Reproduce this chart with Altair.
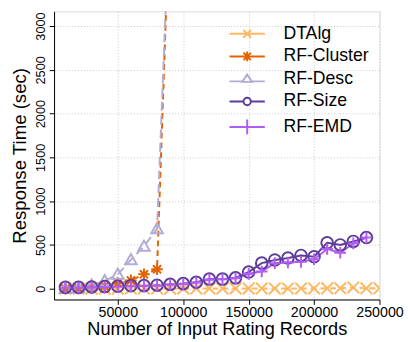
import altair as alt
import pandas as pd

series_names = ["DTAlg", "RF-Cluster", "RF-Desc", "RF-Size", "RF-EMD"]
colors = ["#fdb863", "#e66101", "#b2abd2", "#5e3c99", "#b15cf5"]

x_dtalg = [10000, 20000, 30000, 40000, 50000, 60000, 70000, 80000, 90000, 100000,
           110000, 120000, 130000, 140000, 150000, 160000, 170000, 180000, 190000,
           200000, 210000, 220000, 230000, 240000, 250000]
y_dtalg = [0, 0, 0, 0, 0, 2, 2, 2, 2, 3, 3, 3, 3, 3, 3, 3, 3, 3, 3, 3, 5, 5, 15, 5, 5]

x_cluster = [10000, 20000, 30000, 40000, 50000, 60000, 70000, 80000, 90000]
y_cluster = [0, 3, 10, 30, 65, 95, 165, 222, 4500]

x_desc = [10000, 20000, 30000, 40000, 50000, 60000, 70000, 80000, 90000]
y_desc = [0, 8, 40, 90, 164, 330, 483, 684, 4500]

x_size = [10000, 20000, 30000, 40000, 50000, 60000, 70000, 80000, 90000, 100000,
          110000, 120000, 130000, 140000, 150000, 160000, 170000, 180000, 190000,
          200000, 210000, 220000, 230000, 240000]
y_size = [15, 15, 20, 24, 28, 33, 35, 40, 50, 58, 73, 110, 110, 124, 190, 292,
          328, 350, 380, 365, 525, 500, 540, 584]
y_emd = [12, 12, 17, 20, 24, 28, 30, 35, 45, 55, 70, 105, 108, 120, 170, 197,
         292, 300, 307, 336, 453, 410, 518, 584]

x_ticks = [50000, 100000, 150000, 200000, 250000]
y_ticks = [0, 500, 1000, 1500, 2000, 2500, 3000]

rows = []
for name, xs, ys in [("DTAlg", x_dtalg, y_dtalg), ("RF-Cluster", x_cluster, y_cluster),
                     ("RF-Desc", x_desc, y_desc), ("RF-Size", x_size, y_size),
                     ("RF-EMD", x_size, y_emd)]:
    for xv, yv in zip(xs, ys):
        rows.append({"series": name, "records": xv, "time": yv})
df = pd.DataFrame(rows)

point_shapes = [
    "M-1,-1L1,1M-1,1L1,-1",
    "M-1,0L1,0M0,-1L0,1M-0.7,-0.7L0.7,0.7M-0.7,0.7L0.7,-0.7",
    "M0,-1L1,0.75L-1,0.75Z",
    "circle",
    "M-1,0L1,0M0,-1L0,1",
]
legend_shapes = [
    "M-3.6,0L3.6,0M-0.8,-0.8L0.8,0.8M-0.8,0.8L0.8,-0.8",
    "M-3.6,0L3.6,0M0,-1L0,1M-0.75,-0.75L0.75,0.75M-0.75,0.75L0.75,-0.75",
    "M-3.6,0.5L-1,0.5M1,0.5L3.6,0.5M0,-0.9L1,0.6L-1,0.6Z",
    "M-3.6,0L-0.75,0M0.75,0L3.6,0M-0.75,0A0.75,0.75 0 1,0 0.75,0A0.75,0.75 0 1,0 -0.75,0",
    "M-3.6,0L3.6,0M0,-1.5L0,1.5",
]
dashes = [[6, 4], [6, 4], [9, 5], [1, 0], [1, 0]]

font = "Liberation Sans"

x_enc = alt.X("records:Q", scale=alt.Scale(domain=[1300, 250000], nice=False, zero=False),
              axis=alt.Axis(values=x_ticks, title="Number of Input Rating Records",
                            format="d", labelFontSize=14.5, titleFontSize=18.5,
                            labelFont=font, titleFont=font, labelColor="black",
                            titleColor="black", titleFontWeight="normal",
                            labelPadding=1, titlePadding=1, tickSize=5,
                            labelFlush=False, labelOverlap=False,
                            domainColor="black", tickColor="black",
                            gridColor="#c8c8c8", gridDash=[1, 2]))
y_enc = alt.Y("time:Q", scale=alt.Scale(domain=[-123, 3168], nice=False, zero=False),
              axis=alt.Axis(values=y_ticks, title="Response Time (sec)", format="d",
                            labelFontSize=13, titleFontSize=19, labelAngle=270,
                            labelAlign="center", labelBaseline="bottom",
                            labelFont=font, titleFont=font, labelColor="black",
                            titleColor="black", titleFontWeight="normal",
                            labelPadding=2, titlePadding=5, tickSize=5,
                            labelFlush=False, labelOverlap=False,
                            domainColor="black", tickColor="black",
                            gridColor="#c8c8c8", gridDash=[1, 2]))

color_nolegend = alt.Color("series:N", scale=alt.Scale(domain=series_names, range=colors),
                           legend=None)

lines = alt.Chart(df).mark_line(clip=True, strokeWidth=2).encode(
    x=x_enc, y=y_enc, color=color_nolegend,
    strokeDash=alt.StrokeDash("series:N", scale=alt.Scale(domain=series_names, range=dashes),
                              legend=None),
    order=alt.Order("records:Q"),
)

points = alt.Chart(df).mark_point(clip=True, filled=False, strokeWidth=2, size=140,
                                  opacity=1).encode(
    x=x_enc, y=y_enc, color=color_nolegend,
    shape=alt.Shape("series:N", scale=alt.Scale(domain=series_names, range=point_shapes),
                    legend=None),
)

legend = alt.Legend(orient="none", legendX=188, legendY=14, title=None,
                    labelFontSize=18, labelFont=font, labelColor="black",
                    symbolStrokeWidth=2, symbolSize=100, labelOffset=28,
                    rowPadding=5, padding=0)

legend_layer = alt.Chart(df).mark_point(clip=True, filled=False, strokeWidth=2,
                                        opacity=1).encode(
    x=x_enc, y=alt.value(-2000),
    color=alt.Color("series:N", scale=alt.Scale(domain=series_names, range=colors),
                    legend=legend),
    shape=alt.Shape("series:N", scale=alt.Scale(domain=series_names, range=legend_shapes),
                    legend=legend),
)

chart = alt.layer(lines, points, legend_layer).resolve_scale(
    color="independent", shape="independent", strokeDash="independent"
).properties(
    width=332, height=294,
    autosize=alt.AutoSizeParams(type="none"),
    padding={"left": 47, "top": 0, "right": 25, "bottom": 40},
).configure_view(stroke="#666666", strokeWidth=1).configure(background="white")

chart.save("out.html", embed_options={"renderer": "svg", "actions": False})
